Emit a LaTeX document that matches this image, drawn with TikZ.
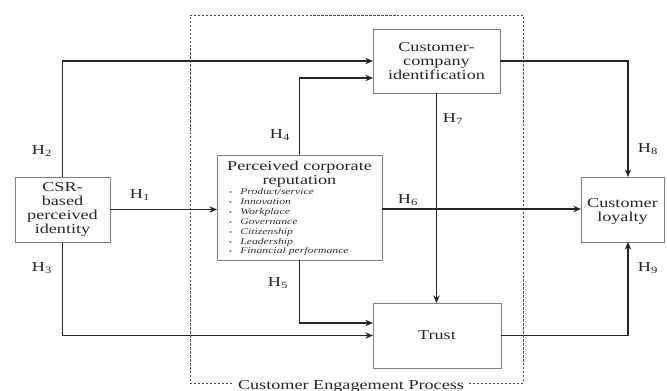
\documentclass[tikz,border=0pt]{standalone}
\usepackage{fontspec}
\setmainfont{Liberation Serif}
\usetikzlibrary{arrows.meta}
\begin{document}
\begin{tikzpicture}[x=0.03cm,y=-0.03cm,
  box/.style={draw=black!50, line width=0.8pt, inner sep=0pt, outer sep=0pt, fill=white},
  txt/.style={font=\fontsize{15.5}{16}\selectfont, text=black!85, align=center, yscale=0.75, inner sep=0pt},
  hlab/.style={font=\fontsize{15.5}{16}\selectfont, text=black!85, yscale=0.75, inner sep=0pt},
  listtxt/.style={font=\fontsize{10}{11.2}\selectfont\itshape, text=black!80, align=left, yscale=0.75, inner sep=0pt, anchor=west},
  arr/.style={draw=black!85, line width=1.6pt, -{Stealth[length=6.5pt,width=5.5pt]}}]
\clip (0,0) rectangle (667,391);
\useasboundingbox (0,0) rectangle (667,391);
% dashed process frame
\node[draw=black!70, line width=0.7pt, dash pattern=on 2pt off 1.4pt, minimum width=9.99cm, minimum height=11.04cm, inner sep=0pt] (cep) at (356.5,199) {};
% boxes
\node[box, minimum width=2.85cm, minimum height=1.95cm] (csr) at (62.5,209.5) {};
\node[box, minimum width=4.95cm, minimum height=3.15cm] (pcr) at (299.5,207.5) {};
\node[box, minimum width=3.81cm, minimum height=1.92cm] (cci) at (436.5,61) {};
\node[box, minimum width=3.84cm, minimum height=1.95cm] (trust) at (437,335.5) {};
\node[box, minimum width=2.49cm, minimum height=1.95cm] (loyal) at (622.5,209.5) {};
% box texts
\node[txt] (csrt) at (csr) {CSR-\\based\\perceived\\identity};
\node[txt] (pcrt) at (299.5,174.5) {Perceived corporate\\reputation};
\node[listtxt] (pcrl) at (229,222.5) {%
\begin{tabular}{@{}l@{\hspace{7pt}}l@{}}
\upshape\scriptsize\textbullet & Product/service\\
\upshape\scriptsize\textbullet & Innovation\\
\upshape\scriptsize\textbullet & Workplace\\
\upshape\scriptsize\textbullet & Governance\\
\upshape\scriptsize\textbullet & Citizenship\\
\upshape\scriptsize\textbullet & Leadership\\
\upshape\scriptsize\textbullet & Financial performance
\end{tabular}};
\node[txt] (ccit) at (cci) {Customer-\\company\\identification};
\node[txt] (trustt) at (trust) {Trust};
\node[txt] (loyalt) at (622.5,211) {Customer\\loyalty};
% coordinate for H8/H9 vertical
\coordinate (vx) at (628,0);
% connectors
\draw[arr] (csr.east) -- (csr.east -| pcr.west);
\draw[arr] (csr.north) |- (cci.west);
\draw[arr] (csr.south) |- (trust.west);
\draw[arr] (pcr.north) |- (cci.west |- 0,78);
\draw[arr] (pcr.south) |- (trust.west |- 0,323);
\draw[arr] (pcr.east |- 0,209) -- (loyal.west |- 0,209);
\draw[arr] (cci.south) -- (cci.south |- trust.north);
\draw[arr] (cci.east) -| (vx |- loyal.north);
\draw[arr] (trust.east) -| (vx |- loyal.south);
% hypothesis labels
\node[hlab] (h1) at (140,195) {H\textsubscript{1}};
\node[hlab] (h2) at (42,151) {H\textsubscript{2}};
\node[hlab] (h3) at (42,268) {H\textsubscript{3}};
\node[hlab] (h4) at (280,135) {H\textsubscript{4}};
\node[hlab] (h5) at (278,283) {H\textsubscript{5}};
\node[hlab] (h6) at (408,200) {H\textsubscript{6}};
\node[hlab] (h7) at (453,119) {H\textsubscript{7}};
\node[hlab] (h8) at (648,149) {H\textsubscript{8}};
\node[hlab] (h9) at (648,268) {H\textsubscript{9}};
% frame label
\node[txt, fill=white, inner xsep=4pt, inner ysep=1pt, anchor=base] (cepl) at (351,389) {Customer Engagement Process};
\end{tikzpicture}
\end{document}
